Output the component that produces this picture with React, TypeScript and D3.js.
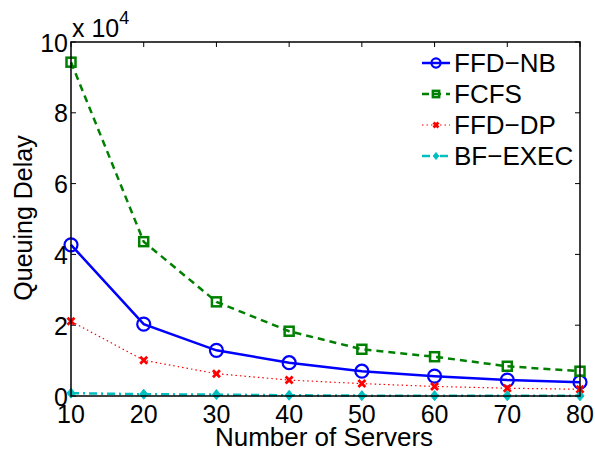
import React from 'react';
import * as d3 from 'd3';

const servers = [10, 20, 30, 40, 50, 60, 70, 80];
const ffdNb = [42700, 20300, 12900, 9400, 7000, 5600, 4500, 3900];
const fcfs = [94300, 43600, 26600, 18300, 13200, 11100, 8400, 7000];
const ffdDp = [21100, 10100, 6300, 4500, 3500, 2700, 2200, 1900];
const bfExec = [800, 500, 400, 200, 100, 100, 50, 50];
const yTicks = [0, 2, 4, 6, 8, 10];

const series = [
  { name: 'FFD\u2212NB', values: ffdNb, color: '#0000ff', dash: '', width: 2.5, marker: 'circle' },
  { name: 'FCFS', values: fcfs, color: '#008000', dash: '7,5', width: 2.5, marker: 'square' },
  { name: 'FFD\u2212DP', values: ffdDp, color: '#ff0000', dash: '1.5,3', width: 1.2, marker: 'x' },
  { name: 'BF\u2212EXEC', values: bfExec, color: '#00bfbf', dash: '8,4,2,4', width: 2.5, marker: 'diamond' },
];

const W = 595, H = 452;
const left = 71, right = 580, top = 42, bottom = 396;
const font = 'Liberation Sans, Arial, Helvetica, sans-serif';

function Marker({ kind, x, y, color, s = 1 }: { kind: string; x: number; y: number; color: string; s?: number }) {
  if (kind === 'circle') return <circle cx={x} cy={y} r={6.5 * s} fill="none" stroke={color} strokeWidth={2.2} />;
  if (kind === 'square') return <rect x={x - 4.5 * s} y={y - 4.5 * s} width={9 * s} height={9 * s} fill="none" stroke={color} strokeWidth={2.5} />;
  if (kind === 'x') return (
    <g stroke={color} strokeWidth={2.8}>
      <line x1={x - 3.5 * s} y1={y - 3.5 * s} x2={x + 3.5 * s} y2={y + 3.5 * s} />
      <line x1={x - 3.5 * s} y1={y + 3.5 * s} x2={x + 3.5 * s} y2={y - 3.5 * s} />
    </g>
  );
  return <path d={`M${x},${y - 5 * s}L${x + 4 * s},${y}L${x},${y + 5 * s}L${x - 4 * s},${y}Z`} fill={color} stroke={color} strokeWidth={1} />;
}

export default function App() {
  const x = d3.scaleLinear().domain([10, 80]).range([left, right]);
  const y = d3.scaleLinear().domain([0, 100000]).range([bottom, top]);
  const line = d3.line<number>().x((_, i) => x(servers[i])).y(v => y(v));

  return (
    <svg width={W} height={H} style={{ position: 'absolute', left: 0, top: 0, background: '#fff' }} fontFamily={font}>
      <rect x={0} y={0} width={W} height={H} fill="#fff" />
      {/* ticks on all four sides */}
      {servers.map(s => (
        <g key={s} stroke="#000" strokeWidth={1}>
          <line x1={x(s)} x2={x(s)} y1={bottom} y2={bottom - 5} />
          <line x1={x(s)} x2={x(s)} y1={top} y2={top + 5} />
        </g>
      ))}
      {yTicks.map(t => (
        <g key={t} stroke="#000" strokeWidth={1}>
          <line x1={left} x2={left + 5} y1={y(t * 10000)} y2={y(t * 10000)} />
          <line x1={right} x2={right - 5} y1={y(t * 10000)} y2={y(t * 10000)} />
        </g>
      ))}
      {series.map(s => (
        <g key={s.name}>
          <path d={line(s.values) || ''} fill="none" stroke={s.color} strokeWidth={s.width} strokeDasharray={s.dash} />
          {s.values.map((v, i) => <Marker key={i} kind={s.marker} x={x(servers[i])} y={y(v)} color={s.color} />)}
        </g>
      ))}
      <rect x={left} y={top} width={right - left} height={bottom - top} fill="none" stroke="#000" strokeWidth={1.5} />
      {/* tick labels */}
      {servers.map(s => (
        <text key={s} x={x(s)} y={423} fontSize={25} textAnchor="middle">{s}</text>
      ))}
      {yTicks.map(t => (
        <text key={t} x={left - 3} y={y(t * 10000) + 9.5} fontSize={25} textAnchor="end">{t}</text>
      ))}
      <text x={72} y={37} fontSize={25}>x 10<tspan dy={-13} fontSize={18}>4</tspan></text>
      <text x={324} y={446} fontSize={26} textAnchor="middle">Number of Servers</text>
      <text transform={`translate(32,218) rotate(-90)`} fontSize={25} textAnchor="middle">Queuing Delay</text>
      {/* legend */}
      {series.map((s, i) => {
        const ly = 63 + i * 31;
        return (
          <g key={s.name}>
            <line x1={422} x2={450} y1={ly} y2={ly} stroke={s.color} strokeWidth={s.width} strokeDasharray={s.dash} />
            <Marker kind={s.marker} x={436} y={ly} color={s.color} s={0.7} />
            <text x={454} y={ly + 9} fontSize={26}>{s.name}</text>
          </g>
        );
      })}
    </svg>
  );
}
